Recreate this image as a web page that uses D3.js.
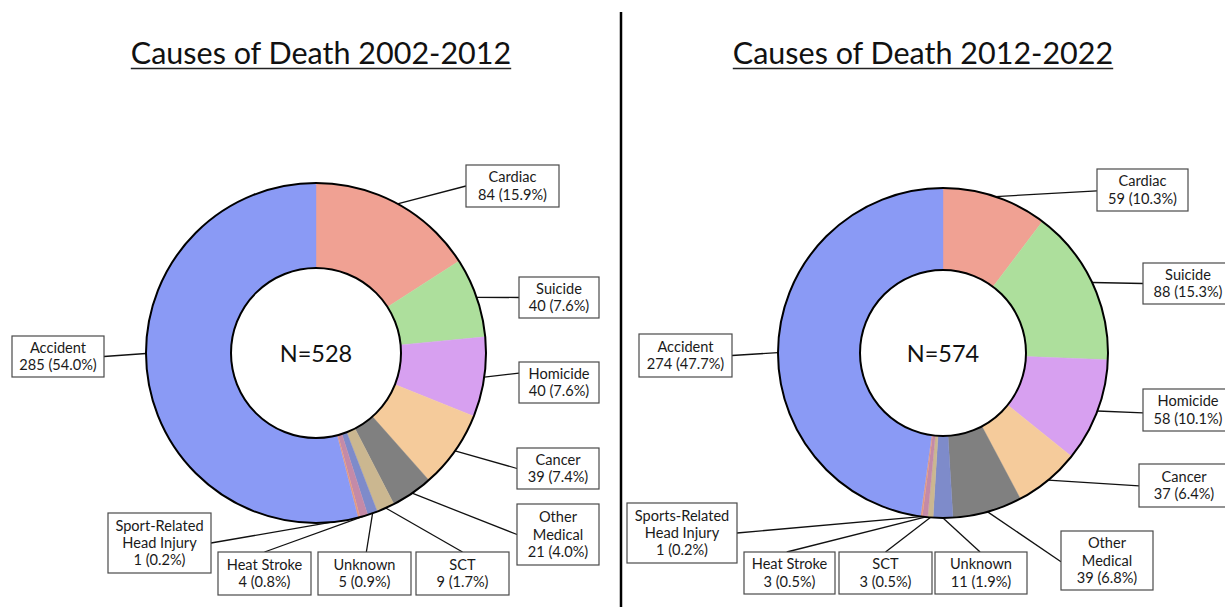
<!DOCTYPE html>
<html><head><meta charset="utf-8">
<script src="https://cdn.jsdelivr.net/npm/d3@7"></script>
<style>
html,body{margin:0;padding:0;background:#fff;}
svg{display:block;font-family:Lato,"Open Sans",sans-serif;}
</style></head>
<body><svg id="c" width="1225" height="607"></svg>
<script>
// ---- data ----
const titles = ["Causes of Death 2002-2012", "Causes of Death 2012-2022"];
const totals = [528, 574];
const categories2002 = ["Cardiac","Suicide","Homicide","Cancer","Other Medical","SCT","Unknown","Heat Stroke","Sport-Related Head Injury","Accident"];
const values2002 = [84, 40, 40, 39, 21, 9, 5, 4, 1, 285];
const categories2012 = ["Cardiac","Suicide","Homicide","Cancer","Other Medical","Unknown","SCT","Heat Stroke","Sports-Related Head Injury","Accident"];
const values2012 = [59, 88, 58, 37, 39, 11, 3, 3, 1, 274];
const colorKeys = ["Cardiac","Suicide","Homicide","Cancer","Other Medical","SCT","Unknown","Heat Stroke","Head Injury","Accident"];

// ---- styles / layout ----
const colors = d3.scaleOrdinal().domain(colorKeys)
  .range(["#f0a193","#addf9c","#d7a0f0","#f5cb9b","#808080","#cbb790","#7e8bca","#c48aa8","#e59a80","#8a9af5"]);
const keyOf = c => c.includes("Head Injury") ? "Head Injury" : c;
const lineBreaks = {
  "Other Medical": ["Other","Medical"],
  "Sport-Related Head Injury": ["Sport-Related","Head Injury"],
  "Sports-Related Head Injury": ["Sports-Related","Head Injury"]
};
const charts = [
  { cx: 316, cy: 353, R: 170, r: 85, titleX: 321,
    cats: categories2002, vals: values2002,
    boxes: {
      "Cardiac": {x:466,y:165,w:93,h:42,side:"l",f:0.5},
      "Suicide": {x:519,y:277,w:80,h:41,side:"l",f:0.5},
      "Homicide": {x:519,y:362,w:80,h:41,side:"l",f:0.27},
      "Cancer": {x:517,y:448,w:82,h:41,side:"l",f:0.5},
      "Other Medical": {x:517,y:504,w:82,h:61,side:"l",f:0.5},
      "SCT": {x:416,y:552,w:93,h:43,side:"t",f:0.5},
      "Unknown": {x:318,y:552,w:93,h:43,side:"t",f:0.52},
      "Heat Stroke": {x:218,y:552,w:93,h:43,side:"t",f:0.5},
      "Sport-Related Head Injury": {x:108,y:513,w:103,h:60,side:"r",f:0.5},
      "Accident": {x:12,y:336,w:92,h:41,side:"r",f:0.5,at:0.536}
    }},
  { cx: 943, cy: 353, R: 165, r: 83, titleX: 923,
    cats: categories2012, vals: values2012,
    boxes: {
      "Cardiac": {x:1097,y:169,w:91,h:42,side:"l",f:0.52},
      "Suicide": {x:1143,y:263,w:90,h:41,side:"l",f:0.5},
      "Homicide": {x:1143,y:389,w:90,h:42,side:"l",f:0.57},
      "Cancer": {x:1139,y:464,w:90,h:43,side:"l",f:0.51},
      "Other Medical": {x:1061,y:531,w:92,h:59,side:"l",f:0.52},
      "Unknown": {x:935,y:552,w:92,h:42,side:"t",f:0.49},
      "SCT": {x:839,y:552,w:93,h:42,side:"t",f:0.5},
      "Heat Stroke": {x:744,y:552,w:91,h:42,side:"t",f:0.47},
      "Sports-Related Head Injury": {x:627,y:503,w:110,h:60,side:"r",f:0.5},
      "Accident": {x:639,y:334,w:93,h:43,side:"r",f:0.5,at:0.478}
    }}
];

const svg = d3.select("#c");
svg.append("rect").attr("width",1225).attr("height",607).attr("fill","#fff");

// divider
svg.append("line").attr("x1",621).attr("x2",621).attr("y1",12).attr("y2",607)
  .attr("stroke","#000").attr("stroke-width",2.5);

const pie = d3.pie().sort(null).value(d => d.v);

charts.forEach((ch, ci) => {
  const data = ch.cats.map((c,i) => ({c, v: ch.vals[i]}));
  const arcs = pie(data);
  const arc = d3.arc().innerRadius(ch.r).outerRadius(ch.R);
  const g = svg.append("g");

  // title
  const t = g.append("text").attr("x", ch.titleX).attr("y", 64)
    .attr("text-anchor","middle").attr("font-size",30.5).attr("fill","#111")
    .text(titles[ci]);
  const bb = t.node().getBBox();
  g.append("line").attr("x1",bb.x).attr("x2",bb.x+bb.width).attr("y1",68.5).attr("y2",68.5)
    .attr("stroke","#222").attr("stroke-width",1.6);

  // leaders
  arcs.forEach(a => {
    const b = ch.boxes[a.data.c];
    const at = b.at === undefined ? 0.5 : b.at;
    const ang = a.startAngle + at*(a.endAngle - a.startAngle);
    const sx = ch.cx + ch.R*Math.sin(ang), sy = ch.cy - ch.R*Math.cos(ang);
    let ex, ey;
    if (b.side === "l") { ex = b.x; ey = b.y + b.f*b.h; }
    else if (b.side === "r") { ex = b.x + b.w; ey = b.y + b.f*b.h; }
    else { ex = b.x + b.f*b.w; ey = b.y; }
    g.append("line").attr("x1",sx).attr("y1",sy).attr("x2",ex).attr("y2",ey)
      .attr("stroke","#111").attr("stroke-width",1.3);
  });

  // slices
  const pg = g.append("g").attr("transform",`translate(${ch.cx},${ch.cy})`);
  pg.selectAll("path").data(arcs).join("path")
    .attr("d", arc).attr("fill", d => colors(keyOf(d.data.c)))
    .attr("stroke", d => colors(keyOf(d.data.c))).attr("stroke-width",0.4);
  pg.append("circle").attr("r", ch.R).attr("fill","none").attr("stroke","#000").attr("stroke-width",2);
  pg.append("circle").attr("r", ch.r).attr("fill","#fff").attr("stroke","#000").attr("stroke-width",2);
  pg.append("text").attr("y", 9).attr("text-anchor","middle").attr("font-size",23.5)
    .attr("fill","#111").text("N=" + totals[ci]);

  // label boxes
  arcs.forEach(a => {
    const b = ch.boxes[a.data.c];
    const pct = (a.data.v / totals[ci] * 100).toFixed(1);
    const lines = (lineBreaks[a.data.c] || [a.data.c]).concat([`${a.data.v} (${pct}%)`]);
    g.append("rect").attr("x",b.x).attr("y",b.y).attr("width",b.w).attr("height",b.h)
      .attr("fill","#fff").attr("stroke","#4a4a4a").attr("stroke-width",1.2);
    const lh = 17.3;
    const y0 = b.y + b.h/2 - (lines.length-1)*lh/2 + 5;
    const tx = g.append("text").attr("text-anchor","middle").attr("font-size",14.6).attr("fill","#1a1a1a");
    lines.forEach((l,i) => tx.append("tspan").attr("x", b.x + b.w/2).attr("y", y0 + i*lh).text(l));
  });
});
</script></body></html>
